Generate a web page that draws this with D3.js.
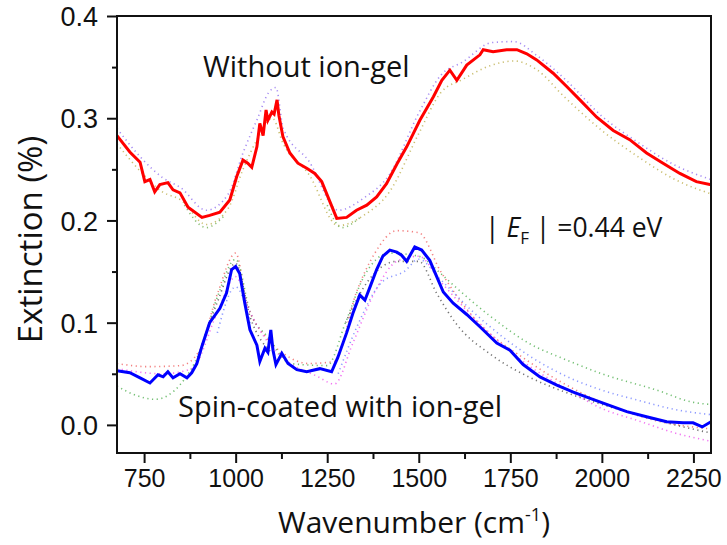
<!DOCTYPE html>
<html>
<head>
<meta charset="utf-8">
<script src="https://cdn.jsdelivr.net/npm/d3@7"></script>
<style>
  body { margin: 0; background: #fff; }
  text { font-family: "Open Sans", sans-serif; fill: #111; }
  .tick text { font-family: "Liberation Sans", Arial, sans-serif; }
</style>
</head>
<body>
<div id="chart"></div>
<script>
// main traces: [wavenumber, extinction %]
var redLine = [[676,0.283],[711,0.267],[739,0.257],[752,0.238],[766,0.240],[779,0.228],[793,0.235],[815,0.237],[829,0.230],[848,0.227],[870,0.213],[908,0.203],[929,0.205],[957,0.208],[984,0.220],[1003,0.243],[1020,0.259],[1033,0.256],[1044,0.252],[1058,0.272],[1066,0.295],[1075,0.283],[1083,0.308],[1088,0.298],[1099,0.306],[1105,0.304],[1113,0.318],[1118,0.303],[1129,0.282],[1148,0.266],[1170,0.256],[1194,0.251],[1216,0.246],[1235,0.238],[1252,0.223],[1276,0.202],[1303,0.203],[1330,0.210],[1358,0.215],[1385,0.223],[1412,0.236],[1440,0.255],[1467,0.272],[1485,0.285],[1503,0.298],[1540,0.321],[1563,0.337],[1585,0.347],[1604,0.337],[1631,0.352],[1667,0.362],[1676,0.367],[1703,0.365],[1740,0.367],[1768,0.367],[1795,0.363],[1822,0.357],[1867,0.344],[1904,0.331],[1940,0.318],[1986,0.301],[2031,0.288],[2076,0.279],[2122,0.266],[2167,0.256],[2213,0.246],[2258,0.238],[2298,0.235]];

var blueLine = [[676,0.053],[711,0.051],[739,0.046],[766,0.041],[788,0.049],[802,0.047],[815,0.052],[829,0.046],[848,0.050],[867,0.046],[880,0.051],[894,0.060],[908,0.077],[929,0.100],[957,0.114],[975,0.129],[989,0.152],[1000,0.155],[1011,0.148],[1025,0.119],[1039,0.093],[1058,0.078],[1066,0.062],[1080,0.075],[1088,0.071],[1096,0.093],[1102,0.073],[1110,0.059],[1126,0.070],[1143,0.060],[1167,0.054],[1194,0.052],[1230,0.055],[1262,0.052],[1279,0.066],[1303,0.090],[1320,0.109],[1339,0.127],[1353,0.122],[1367,0.135],[1385,0.152],[1402,0.165],[1421,0.171],[1440,0.169],[1453,0.166],[1467,0.160],[1489,0.174],[1508,0.171],[1530,0.161],[1549,0.145],[1567,0.130],[1594,0.119],[1631,0.108],[1667,0.096],[1713,0.080],[1749,0.073],[1785,0.059],[1831,0.047],[1877,0.039],[1922,0.032],[1968,0.026],[2013,0.020],[2068,0.013],[2122,0.008],[2177,0.003],[2222,0.002],[2249,0.002],[2274,-0.002],[2298,0.003]];

// dotted repeat measurements (null = gap)
var redPurple = [[676,0.290],[740,0.262],[800,0.242],[850,0.232],[920,0.210],[980,0.226],[1020,0.266],[1060,0.300],[1090,0.325],[1110,0.330],[1130,0.290],[1200,0.258],[1280,0.210],[1350,0.222],[1420,0.245],[1500,0.305],[1560,0.342],[1620,0.355],[1700,0.374],[1760,0.375],[1820,0.362],[1900,0.338],[2000,0.302],[2100,0.276],[2200,0.254],[2298,0.240]];
var redOlive = [[676,0.275],[740,0.248],[800,0.228],[850,0.220],[920,0.196],[980,0.212],[1020,0.250],[1060,0.280],[1100,0.300],[1130,0.275],[1200,0.245],[1280,0.195],[1350,0.205],[1420,0.228],[1500,0.285],[1560,0.325],[1620,0.338],[1700,0.352],[1760,0.356],[1820,0.348],[1900,0.320],[2000,0.288],[2100,0.262],[2200,0.240],[2298,0.226]];
var redGreen = [[860,0.215],[920,0.193],[970,0.205],null,[1250,0.215],[1290,0.193],[1340,0.203]];

var blueRed = [[676,0.060],[760,0.057],[850,0.058],[900,0.072],[950,0.128],[1000,0.168],[1030,0.120],[1080,0.087],[1130,0.070],[1200,0.060],[1270,0.062],[1330,0.130],[1380,0.168],[1440,0.190],[1500,0.188],[1560,0.150],[1650,0.105],[1800,0.062],[2000,0.022],[2150,0.004],[2298,-0.004]];
var blueGreen = [[676,0.038],[720,0.030],[780,0.025],[850,0.040],[900,0.070],[950,0.125],[1000,0.162],[1040,0.110],[1090,0.085],[1150,0.060],[1250,0.058],[1300,0.100],[1350,0.145],[1420,0.168],[1500,0.165],[1560,0.148],[1600,0.135],[1700,0.105],[1800,0.080],[1900,0.064],[2000,0.050],[2150,0.034],[2250,0.022],[2298,0.020]];
var blueBlack = [[900,0.070],[950,0.120],[1000,0.158],[1040,0.105],[1100,0.070],null,[1300,0.100],[1360,0.140],[1440,0.160],[1500,0.160],[1550,0.128],[1600,0.100],[1700,0.068],[1800,0.047],[1900,0.032],[2000,0.020],[2100,0.010],[2200,0.000],[2298,-0.008]];
var blueMagenta = [[676,0.055],[800,0.050],[880,0.055],[950,0.110],[1000,0.145],[1040,0.110],[1090,0.080],[1150,0.060],[1220,0.048],[1270,0.040],[1320,0.080],[1380,0.130],[1440,0.160],[1500,0.165],[1560,0.140],[1650,0.105],[1800,0.058],[1900,0.036],[2000,0.016],[2100,0.004],[2200,-0.008],[2298,-0.016]];
var blueLight = [[950,0.090],[1000,0.135],[1040,0.100],null,[1280,0.050],[1330,0.095],[1400,0.140],[1460,0.150],[1500,0.162],[1560,0.142],[1650,0.110],[1800,0.068],[1900,0.048],[2000,0.034],[2100,0.024],[2200,0.015],[2298,0.010]];

var dotted = [
  { values: redPurple, color: "#8866ee" },
  { values: redOlive, color: "#b8a840" },
  { values: redGreen, color: "#66aa44" },
  { values: blueRed, color: "#ee5555" },
  { values: blueGreen, color: "#44aa44" },
  { values: blueBlack, color: "#444444" },
  { values: blueMagenta, color: "#ee44ee" },
  { values: blueLight, color: "#6677ff" }
];

var xTicks = [750, 1000, 1250, 1500, 1750, 2000, 2250];
var xMinor = [875, 1125, 1375, 1625, 1875, 2125];
var yTicks = [0.0, 0.1, 0.2, 0.3, 0.4];
var yMinor = [0.05, 0.15, 0.25, 0.35];

var W = 727, H = 545;
var margin = { top: 16, right: 16, bottom: 92, left: 117 };
var width = W - margin.left - margin.right,
    height = H - margin.top - margin.bottom;

var svg = d3.select("#chart").append("svg")
  .attr("width", W).attr("height", H);
var g = svg.append("g")
  .attr("transform", "translate(" + margin.left + "," + margin.top + ")");

var x = d3.scaleLinear().domain([676, 2298]).range([0, width]);
var y = d3.scaleLinear().domain([-0.0275, 0.4]).range([height, 0]);

var line = d3.line().x(d => x(d[0])).y(d => y(d[1]));
var smooth = d3.line().defined(d => d != null)
  .x(d => x(d[0])).y(d => y(d[1])).curve(d3.curveMonotoneX);

// dotted repeats
dotted.forEach(function(s) {
  g.append("path")
    .datum(s.values)
    .attr("d", smooth)
    .attr("fill", "none")
    .attr("stroke", s.color)
    .attr("stroke-width", 1.6)
    .attr("stroke-dasharray", "1.2,3.5")
    .attr("opacity", 0.75);
});

g.append("path").datum(redLine).attr("d", line)
  .attr("fill", "none").attr("stroke", "#ff0000").attr("stroke-width", 3);
g.append("path").datum(blueLine).attr("d", line)
  .attr("fill", "none").attr("stroke", "#0000ff").attr("stroke-width", 3);

// frame
g.append("rect").attr("width", width).attr("height", height)
  .attr("fill", "none").attr("stroke", "#111").attr("stroke-width", 2);

// axes
var xAxis = g.append("g").attr("transform", "translate(0," + height + ")")
  .call(d3.axisBottom(x).tickValues(xTicks).tickSize(10).tickPadding(6).tickFormat(d3.format("d")));
g.append("g").attr("transform", "translate(0," + height + ")")
  .call(d3.axisBottom(x).tickValues(xMinor).tickSize(6).tickFormat(""));
var yAxis = g.append("g")
  .call(d3.axisLeft(y).tickValues(yTicks).tickSize(10).tickPadding(9).tickFormat(d3.format(".1f")));
g.append("g")
  .call(d3.axisLeft(y).tickValues(yMinor).tickSize(5).tickFormat(""));

g.selectAll(".domain").remove();
g.selectAll(".tick line").attr("stroke", "#111").attr("stroke-width", 2);
xAxis.selectAll("text").style("font-size", "25px").attr("fill", "#111");
yAxis.selectAll("text").style("font-size", "27px").attr("fill", "#111").attr("dy", "0.36em");

// axis titles
var xt = svg.append("text")
  .attr("x", margin.left + width / 2).attr("y", 533)
  .attr("text-anchor", "middle").style("font-size", "30px");
xt.append("tspan").text("Wavenumber (cm");
xt.append("tspan").attr("dy", -12).style("font-size", "18px").text("-1");
xt.append("tspan").attr("dy", 12).text(")");

svg.append("text")
  .attr("transform", "translate(42," + (margin.top + height / 2 + 5) + ") rotate(-90)")
  .attr("text-anchor", "middle").style("font-size", "33px")
  .text("Extinction (%)");

// annotations
svg.append("text").attr("x", 203).attr("y", 77).style("font-size", "29px")
  .text("Without ion-gel");
svg.append("text").attr("x", 178).attr("y", 417).style("font-size", "29px")
  .text("Spin-coated with ion-gel");

var ef = svg.append("text").attr("x", 485).attr("y", 237).style("font-size", "26.5px");
ef.append("tspan").text("| ");
ef.append("tspan").style("font-style", "italic").text("E");
ef.append("tspan").attr("dy", 7).style("font-size", "17px").text("F");
ef.append("tspan").attr("dy", -7).text(" | =0.44 eV");
</script>
</body>
</html>
